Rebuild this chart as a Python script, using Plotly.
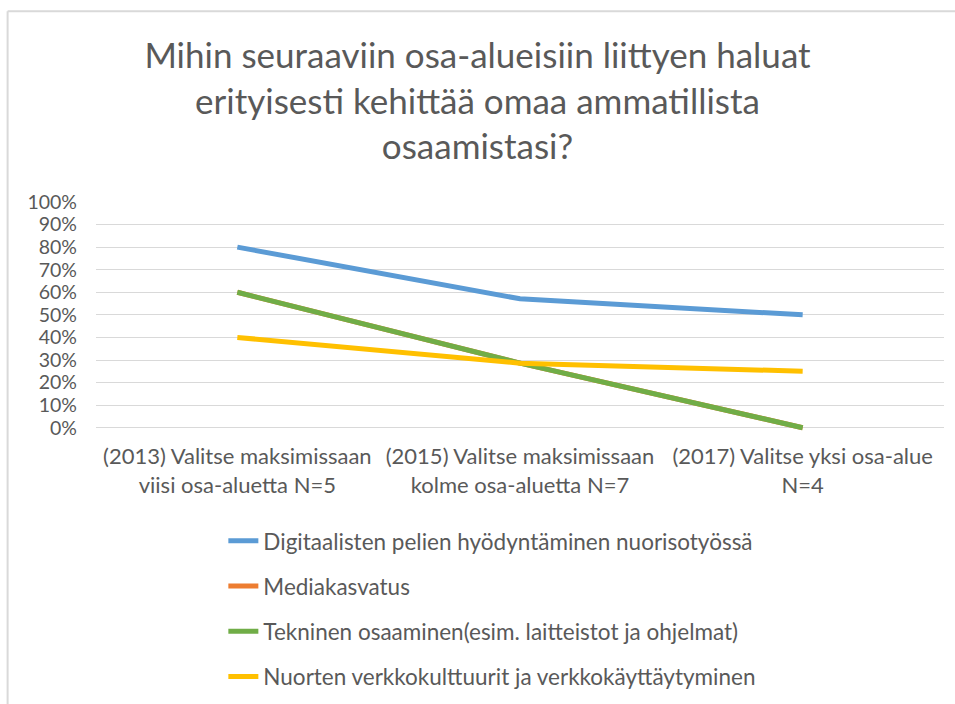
import plotly.graph_objects as go

categories = ["(2013) Valitse maksimissaan<br>viisi osa-aluetta N=5",
              "(2015) Valitse maksimissaan<br>kolme osa-aluetta N=7",
              "(2017) Valitse yksi osa-alue<br>N=4"]
series_names = ["Digitaalisten pelien hyödyntäminen nuorisotyössä",
                "Mediakasvatus",
                "Tekninen osaaminen(esim. laitteistot ja ohjelmat)",
                "Nuorten verkkokulttuurit ja verkkokäyttäytyminen"]
digitaaliset = [0.80, 0.571, 0.50]
mediakasvatus = [0.60, 0.286, 0.0]
tekninen = [0.60, 0.286, 0.0]
nuorten = [0.40, 0.286, 0.25]
colors = ["#5B9BD5", "#ED7D31", "#70AD47", "#FFC000"]
ytick_vals = [i / 10 for i in range(11)]
ytick_text = [f"{i*10}%" for i in range(11)]

W, H = 955, 704
L, R, T = 95.5, 10.5, 202
ph = 226 * 1.05
B = H - T - ph
pw = W - L - R
def px(x): return (x - L) / pw
def py(y): return (H - B - y) / ph

FONT = "Lato"
GREY = "#595959"
fig = go.Figure()
for i, (name, vals) in enumerate(zip(series_names, [digitaaliset, mediakasvatus, tekninen, nuorten])):
    fig.add_trace(go.Scatter(x=[0, 1, 2], y=vals, mode="lines", name=name,
                             line=dict(color=colors[i], width=5), legendgroup=str(i)))

fig.update_layout(
    width=W, height=H, margin=dict(l=L, r=R, t=T, b=B, autoexpand=False),
    paper_bgcolor="white", plot_bgcolor="white",
    font=dict(family=FONT, color=GREY),
    title=dict(text="Mihin seuraaviin osa-alueisiin liittyen haluat<br>erityisesti kehittää omaa ammatillista<br>osaamistasi?",
               x=0.5, xanchor="center", y=1 - 68 / H, yanchor="top",
               font=dict(family=FONT, size=35, color=GREY)),
    xaxis=dict(range=[-0.5, 2.5], tickvals=[0, 1, 2], ticktext=categories,
               showgrid=False, zeroline=False, showline=False,
               tickfont=dict(size=22, color=GREY), ticklabelstandoff=2),
    yaxis=dict(range=[-0.05, 1.0], tickvals=ytick_vals, ticktext=ytick_text,
               showgrid=True, gridcolor="#D9D9D9", gridwidth=1, zeroline=False,
               showline=False, tickfont=dict(size=19.5, color=GREY), ticklabelstandoff=18),
    legend=dict(x=px(223), xanchor="left", y=py(520), yanchor="top",
                font=dict(size=22.5, color=GREY), tracegroupgap=13,
                bgcolor="rgba(0,0,0,0)"),
    showlegend=True,
)
fig.add_shape(type="line", xref="paper", yref="paper", x0=px(7), x1=px(960), y0=py(11), y1=py(11),
              line=dict(color="#D9D9D9", width=2))
fig.add_shape(type="line", xref="paper", yref="paper", x0=px(7), x1=px(7), y0=py(11), y1=py(710),
              line=dict(color="#D9D9D9", width=2))
fig.write_html("out.html", config={"displayModeBar": False},
               post_script="document.body.style.margin='0';document.body.style.overflow='hidden';")
